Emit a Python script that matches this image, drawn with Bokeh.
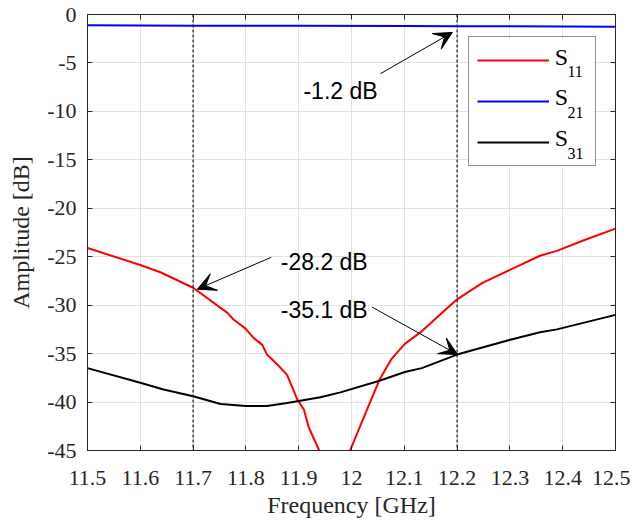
from bokeh.plotting import figure
from bokeh.models import (Range1d, LinearAxis, FixedTicker, Span, Label, Arrow,
                          VeeHead, Legend, LegendItem, CustomJSTickFormatter, BoxAnnotation)
from bokeh.embed import file_html
from bokeh.resources import INLINE

# ---------------- data ----------------
s11_f = [11.5, 11.6, 11.638, 11.7, 11.765, 11.777, 11.799, 11.815, 11.831, 11.84,
         11.859, 11.878, 11.888, 11.897, 11.91, 11.919, 11.938, 11.95, 11.968, 11.98,
         11.998, 12.027, 12.053, 12.075, 12.101, 12.133, 12.171, 12.2, 12.248, 12.306,
         12.357, 12.389, 12.44, 12.5]
s11_db = [-24.1, -25.85, -26.6, -28.2, -30.8, -31.5, -32.4, -33.4, -34.1, -35.1,
          -36.1, -37.2, -38.5, -39.7, -40.8, -42.6, -44.9, -46.6, -49.2, -47.3,
          -44.9, -41.1, -37.7, -35.6, -34.0, -32.7, -30.8, -29.4, -27.7, -26.2,
          -24.9, -24.4, -23.3, -22.1]

s21_f = [11.5, 11.7, 11.9, 12.1, 12.2, 12.3, 12.5]
s21_db = [-1.12, -1.15, -1.17, -1.19, -1.2, -1.22, -1.27]

s31_f = [11.5, 11.6, 11.644, 11.7, 11.752, 11.8, 11.84, 11.878, 11.9, 11.941,
         11.979, 12.053, 12.101, 12.133, 12.2, 12.299, 12.357, 12.389, 12.5]
s31_db = [-36.5, -38.0, -38.7, -39.4, -40.2, -40.4, -40.4, -40.1, -39.9, -39.5,
          -39.0, -37.8, -36.9, -36.5, -35.1, -33.6, -32.8, -32.5, -31.0]

series_names = ["S", "S", "S"]
series_subs = ["11", "21", "31"]

marker_freqs = [11.7, 12.2]
annot_texts = ["-1.2 dB", "-28.2 dB", "-35.1 dB"]

x_ticks = [11.5, 11.6, 11.7, 11.8, 11.9, 12.0, 12.1, 12.2, 12.3, 12.4, 12.5]
x_tick_labels = ["11.5", "11.6", "11.7", "11.8", "11.9", "12", "12.1", "12.2", "12.3", "12.4", "12.5"]
y_ticks = [0, -5, -10, -15, -20, -25, -30, -35, -40, -45]
y_tick_labels = ["0", "-5", "-10", "-15", "-20", "-25", "-30", "-35", "-40", "-45"]

# ---------------- figure ----------------
SERIF = "Liberation Serif"
SANS = "Liberation Sans"
AXC = "#262626"

p = figure(width=630, height=520, output_backend="svg", toolbar_location=None,
           x_range=Range1d(11.5, 12.5), y_range=Range1d(-45, 0),
           min_border_left=87, min_border_right=15, min_border_top=14, min_border_bottom=69)
p.background_fill_color = "white"
p.border_fill_color = "white"
p.outline_line_color = AXC
p.outline_line_width = 1

r11 = p.line(s11_f, s11_db, line_color="#ff0000", line_width=2)
r21 = p.line(s21_f, s21_db, line_color="#0000ff", line_width=2)
r31 = p.line(s31_f, s31_db, line_color="#000000", line_width=2)

LABEL_JS = """
let k = -1;
for (let j = 0; j < tvals.length; j++) { if (Math.abs(tvals[j] - tick) < 1e-9) { k = j; } }
return k >= 0 ? tlabels[k] : "";
"""

def style_axis(ax):
    ax.axis_line_color = AXC
    ax.major_tick_line_color = AXC
    ax.major_tick_in = 5
    ax.major_tick_out = 0
    ax.minor_tick_line_color = None
    ax.major_label_text_font = SERIF
    ax.major_label_text_font_size = "22px"
    ax.major_label_text_color = AXC
    ax.axis_label_text_font = SERIF
    ax.axis_label_text_font_style = "normal"
    ax.axis_label_text_color = AXC
    ax.axis_label_text_font_size = "24px"

xt = FixedTicker(ticks=x_ticks)
yt = FixedTicker(ticks=y_ticks)

xa = p.xaxis[0]
xa.ticker = xt
xa.formatter = CustomJSTickFormatter(args=dict(tvals=x_ticks, tlabels=x_tick_labels), code=LABEL_JS)
xa.axis_label = "Frequency [GHz]"
style_axis(xa)
xa.major_label_standoff = 20
xa.axis_label_standoff = 4

ya = p.yaxis[0]
ya.ticker = yt
ya.formatter = CustomJSTickFormatter(args=dict(tvals=y_ticks, tlabels=y_tick_labels), code=LABEL_JS)
ya.axis_label = "Amplitude [dB]"
style_axis(ya)
ya.major_label_standoff = 11
ya.axis_label_standoff = 10

blank = CustomJSTickFormatter(code="return '';")
top_ax = LinearAxis(ticker=xt, formatter=blank)
style_axis(top_ax)
top_ax.major_label_standoff = 0
p.add_layout(top_ax, "above")
right_ax = LinearAxis(ticker=yt, formatter=blank)
style_axis(right_ax)
right_ax.major_label_standoff = 0
p.add_layout(right_ax, "right")

p.xgrid.ticker = xt
p.ygrid.ticker = yt
for g in (p.xgrid, p.ygrid):
    g.grid_line_color = "#e2e2e2"
    g.grid_line_width = 1

# dashed markers
for f in marker_freqs:
    p.add_layout(Span(location=f, dimension="height", line_color=AXC,
                      line_dash="3 2", line_width=1.3))

# annotations: text position + arrow start/end
annot_layout = [
    dict(tx=11.909, ty=-7.9, xs=12.055, ys=-6.1, xe=12.191, ye=-1.85),
    dict(tx=11.866, ty=-25.5, xs=11.848, ys=-25.06, xe=11.708, ye=-28.35),
    dict(tx=11.866, ty=-30.5, xs=12.039, ys=-30.2, xe=12.201, ye=-35.1),
]
for txt, lay in zip(annot_texts, annot_layout):
    p.add_layout(Label(x=lay["tx"], y=lay["ty"], text=txt, text_font=SANS,
                       text_font_size="23px", text_color="black",
                       text_baseline="middle", text_align="left"))
    p.add_layout(Arrow(x_start=lay["xs"], y_start=lay["ys"], x_end=lay["xe"], y_end=lay["ye"],
                       line_color="black", line_width=1,
                       end=VeeHead(size=18, fill_color="black", line_color="black")))

# white backing for the legend box (above grid, below everything else)
p.add_layout(BoxAnnotation(left=12.2216, right=12.4602, top=-2.55, bottom=-15.75,
                           fill_color="white", fill_alpha=1, line_color=None,
                           level="glyph", propagate_hover=False))

# legend (line samples + border), transparent so the texts show
legend = Legend(items=[LegendItem(label=" ", renderers=[r]) for r in (r11, r21, r31)],
                location=(381, 284), orientation="vertical",
                glyph_width=72, glyph_height=30, label_height=30, label_width=30,
                label_standoff=8, padding=8, spacing=11, margin=0,
                label_text_font_size="1px",
                border_line_color=AXC, border_line_width=1,
                background_fill_alpha=0)
p.add_layout(legend, "center")

leg_x, leg_y0, leg_step = 12.385, -4.36, -4.19
sub_x, sub_y0 = 12.409, -5.92
for i, (nm, sb) in enumerate(zip(series_names, series_subs)):
    p.add_layout(Label(x=leg_x, y=leg_y0 + i * leg_step, text=nm, text_font=SERIF,
                       text_font_size="24px", text_color="black",
                       text_baseline="alphabetic", text_align="left"))
    p.add_layout(Label(x=sub_x, y=sub_y0 + i * leg_step, text=sb, text_font=SERIF,
                       text_font_size="16px", text_color="black",
                       text_baseline="alphabetic", text_align="left"))

open("out.html", "w").write(file_html(p, INLINE))
